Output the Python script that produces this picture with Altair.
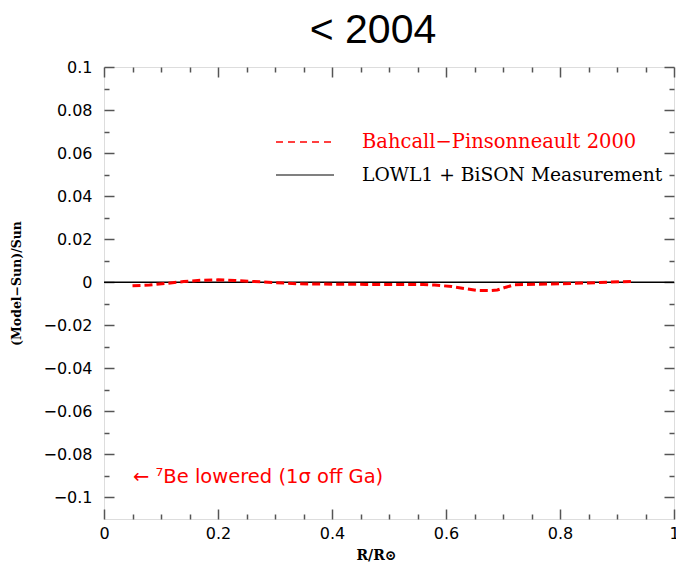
import altair as alt
import pandas as pd

# Data (dashed red model curve)
radius = [0.05, 0.08, 0.11, 0.14, 0.17, 0.20, 0.23, 0.26, 0.30, 0.34, 0.40, 0.46, 0.52,
          0.56, 0.58, 0.61, 0.635, 0.655, 0.675, 0.69, 0.705, 0.72, 0.76, 0.80, 0.85, 0.89, 0.925]
delta_c = [-0.0016, -0.0013, -0.0005, 0.0003, 0.0009, 0.0011, 0.0008, 0.0004, -0.0002, -0.0007,
           -0.0009, -0.0010, -0.0010, -0.0011, -0.0013, -0.0020, -0.0030, -0.0038, -0.0039,
           -0.0036, -0.0023, -0.0012, -0.0009, -0.0007, -0.0003, 0.0001, 0.0003]

x_major = [0, 0.2, 0.4, 0.6, 0.8, 1]
x_minor = [0.05, 0.1, 0.15, 0.25, 0.3, 0.35, 0.45, 0.5, 0.55, 0.65, 0.7, 0.75, 0.85, 0.9, 0.95]
y_major = [-0.1, -0.08, -0.06, -0.04, -0.02, 0, 0.02, 0.04, 0.06, 0.08, 0.1]
y_minor = [-0.09, -0.07, -0.05, -0.03, -0.01, 0.01, 0.03, 0.05, 0.07, 0.09]

legend_labels = ["Bahcall\u2212Pinsonneault 2000", "LOWL1 + BiSON Measurement"]
note_text = "\u2190 \u2077Be lowered (1\u03c3 off Ga)"
title_text = "< 2004"

df = pd.DataFrame({"r": radius, "d": delta_c})

W, H = 570, 452
FRAME = "#555555"
XS = alt.Scale(domain=[0, 1], nice=False, zero=False)
YS = alt.Scale(domain=[-0.11, 0.1], nice=False, zero=False)


def ax(orient, values, size, labels=False, **kw):
    return alt.Axis(orient=orient, values=values, tickSize=size, offset=-size,
                    labels=labels, domain=False, grid=False, ticks=True,
                    tickColor=FRAME, tickWidth=1.5, title=None if "title" not in kw else kw.pop("title"),
                    **kw)


lab = dict(labelFont="DejaVu Sans", labelFontSize=16, labelColor="black", format="~g")

main = alt.Chart(df).mark_line(color="#ff0000", strokeWidth=3, strokeDash=[8, 4]).encode(
    x=alt.X("r:Q", scale=XS,
            axis=ax("bottom", x_major, 10, labels=True, labelPadding=6, labelFlush=False,
                    title="R/R\u2299", titleFont="DejaVu Serif", titleFontSize=14,
                    titleFontWeight="bold", titleColor="black", titlePadding=7,
                    titleX=272, **lab)),
    y=alt.Y("d:Q", scale=YS,
            axis=ax("left", y_major, 10, labels=True, labelPadding=12, labelFlush=False,
                    title="(Model\u2212Sun)/Sun", titleFont="DejaVu Serif", titleFontSize=12.5,
                    titleFontWeight="bold", titleColor="black", titleAngle=-90,
                    titleX=-98, titleY=216, titleAlign="center", titleBaseline="middle", **lab)),
)


def ghost(xax, yax):
    return alt.Chart(df).mark_line(opacity=0).encode(
        x=alt.X("r:Q", scale=XS, axis=xax),
        y=alt.Y("d:Q", scale=YS, axis=yax),
    )


g1 = ghost(ax("bottom", x_minor, 5), ax("left", y_minor, 5))
g2 = ghost(ax("top", x_major, 10), ax("right", y_major, 10))
g3 = ghost(ax("top", x_minor, 5), ax("right", y_minor, 5))

zero = alt.Chart(pd.DataFrame({"z": [0]})).mark_rule(color="black", strokeWidth=1.5).encode(
    y=alt.Y("z:Q", scale=YS, axis=None)
)

leg_red = alt.Chart(pd.DataFrame({"a": [0]})).mark_rule(
    color="#ff0000", strokeWidth=1.5, strokeDash=[7, 5]).encode(
    x=alt.value(172), x2=alt.value(230), y=alt.value(75))
leg_gray = alt.Chart(pd.DataFrame({"a": [0]})).mark_rule(
    color="#808080", strokeWidth=2).encode(
    x=alt.value(172), x2=alt.value(230), y=alt.value(108))
leg_t1 = alt.Chart(pd.DataFrame({"t": [legend_labels[0]]})).mark_text(
    align="left", baseline="middle", font="DejaVu Serif", fontSize=19.5, color="#ff0000").encode(
    text="t:N", x=alt.value(258), y=alt.value(75))
leg_t2 = alt.Chart(pd.DataFrame({"t": [legend_labels[1]]})).mark_text(
    align="left", baseline="middle", font="DejaVu Serif", fontSize=18.7, color="black").encode(
    text="t:N", x=alt.value(258), y=alt.value(108))
note = alt.Chart(pd.DataFrame({"t": [note_text]})).mark_text(
    align="left", baseline="middle", font="DejaVu Sans", fontSize=19.5, color="#ff0000").encode(
    text="t:N", x=alt.value(29), y=alt.value(410))
title = alt.Chart(pd.DataFrame({"t": [title_text]})).mark_text(
    align="center", baseline="alphabetic", font="Liberation Sans", fontSize=41, color="black").encode(
    text="t:N", x=alt.value(269), y=alt.value(-24))

chart = alt.layer(zero, main, g1, g2, g3, leg_red, leg_gray, leg_t1, leg_t2, note, title).resolve_axis(
    x="independent", y="independent"
).properties(
    width=W, height=H,
    autosize=alt.AutoSizeParams(type="none"),
    padding={"left": 104, "top": 67, "right": 2, "bottom": 45},
).configure_view(stroke=FRAME, strokeWidth=1.5).configure(background="white")

chart.save("out.html", embed_options={"renderer": "svg", "actions": False})
